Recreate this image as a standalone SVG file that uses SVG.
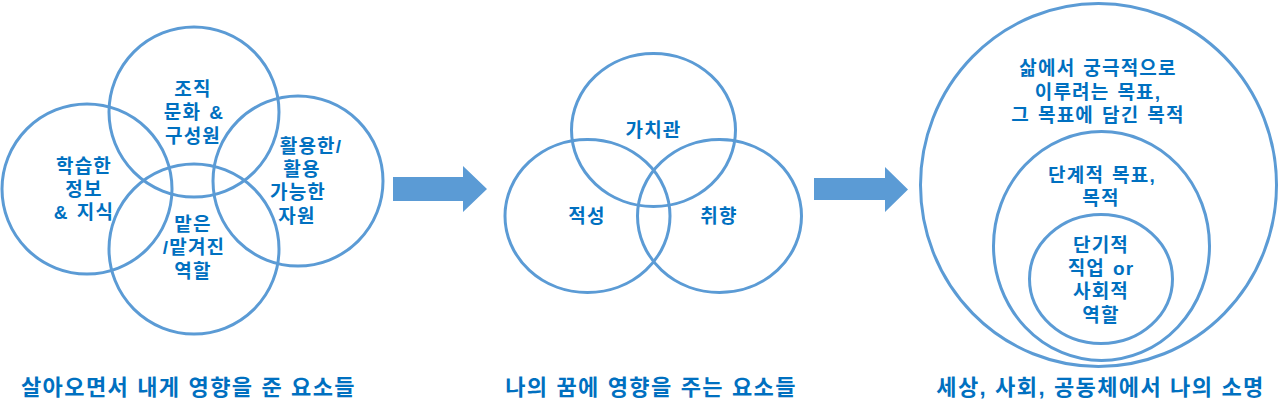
<svg xmlns="http://www.w3.org/2000/svg" width="1280" height="415" viewBox="0 0 1280 415">
<style>
.c{fill:none;stroke:#5B9BD5;stroke-width:3}
.t{font-family:"Liberation Sans","Noto Sans CJK KR",sans-serif;font-weight:bold;font-size:19px;fill:#0070C0;text-anchor:middle;letter-spacing:1.2px;word-spacing:1.5px}
.b{font-size:22px;letter-spacing:1.4px;word-spacing:0.5px}
.a{fill:#5B9BD5}
</style>
<rect width="1280" height="415" fill="#fff"/>
<g id="venn4">
<g id="n-org"><circle class="c" cx="194" cy="112" r="85"/></g>
<g id="n-learn"><circle class="c" cx="87" cy="189" r="85"/></g>
<g id="n-res"><circle class="c" cx="298" cy="181" r="85"/></g>
<g id="n-role"><circle class="c" cx="194" cy="249" r="85"/></g>
<text class="t" x="193" y="96">조직</text>
<text class="t" x="194" y="119">문화 &amp;</text>
<text class="t" x="193" y="143">구성원</text>
<text class="t" x="84" y="173">학습한</text>
<text class="t" x="84" y="196">정보</text>
<text class="t" x="84" y="219">&amp; 지식</text>
<text class="t" x="311" y="153">활용한/</text>
<text class="t" x="302" y="176">활용</text>
<text class="t" x="298" y="199">가능한</text>
<text class="t" x="297" y="223">자원</text>
<text class="t" x="193" y="231">맡은</text>
<text class="t" x="194" y="254">/맡겨진</text>
<text class="t" x="193" y="278">역할</text>
</g>
<g id="venn3">
<g id="n-value"><ellipse class="c" cx="653.5" cy="130" rx="82" ry="76.5"/><text class="t" x="653.5" y="137">가치관</text></g>
<g id="n-apt"><ellipse class="c" cx="587.5" cy="216" rx="82.5" ry="76.5"/><text class="t" x="587" y="223">적성</text></g>
<g id="n-taste"><ellipse class="c" cx="719.5" cy="216" rx="82" ry="76.5"/><text class="t" x="719" y="223">취향</text></g>
</g>
<g id="nested">
<g id="n-outer"><ellipse class="c" cx="1098.5" cy="185" rx="178" ry="181.5"/>
<text class="t" x="1098" y="75">삶에서 궁극적으로</text>
<text class="t" x="1098" y="99">이루려는 목표,</text>
<text class="t" x="1098" y="122">그 목표에 담긴 목적</text></g>
<g id="n-mid"><ellipse class="c" cx="1101.5" cy="246" rx="108" ry="114.5"/>
<text class="t" x="1102" y="182">단계적 목표,</text>
<text class="t" x="1101" y="205">목적</text></g>
<g id="n-inner"><ellipse class="c" cx="1101" cy="279" rx="71.5" ry="64.5"/>
<text class="t" x="1101" y="252">단기적</text>
<text class="t" x="1101" y="275">직업 or</text>
<text class="t" x="1101" y="298">사회적</text>
<text class="t" x="1101" y="322">역할</text></g>
</g>
<g id="connectors">
<polygon class="a" points="393,177 463,177 463,166 487,189 463,212 463,201 393,201"/>
<polygon class="a" points="814,178 885,178 885,167 908,189.5 885,212 885,200 814,200"/>
</g>
<g id="labels">
<text class="t b" x="188.5" y="395">살아오면서 내게 영향을 준 요소들</text>
<text class="t b" x="651" y="395">나의 꿈에 영향을 주는 요소들</text>
<text class="t b" x="1100.5" y="395">세상, 사회, 공동체에서 나의 소명</text>
</g>
</svg>
